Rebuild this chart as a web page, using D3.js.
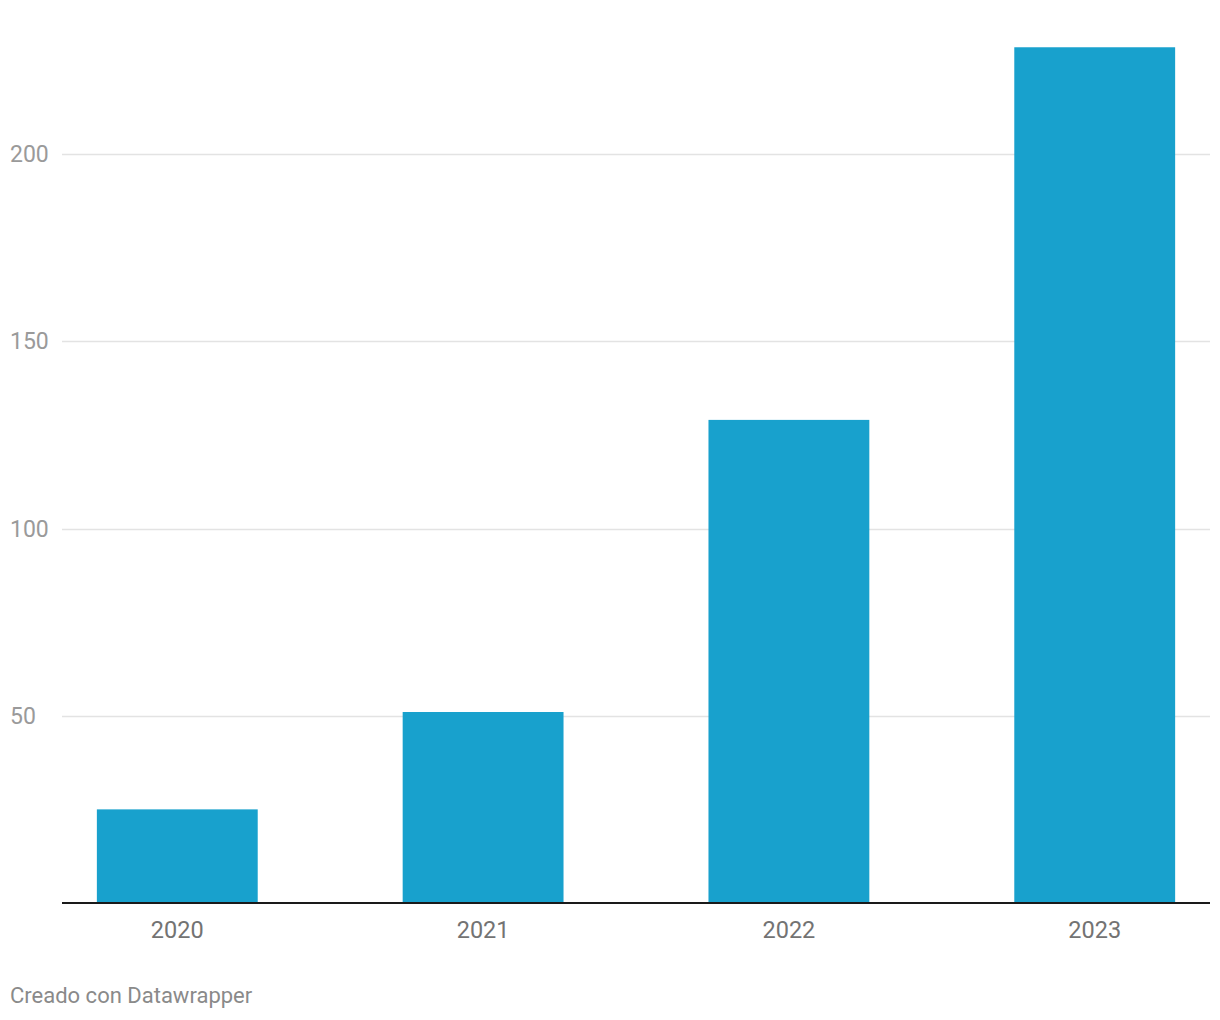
<!DOCTYPE html>
<html>
<head>
<meta charset="utf-8">
<script src="https://cdn.jsdelivr.net/npm/d3@7"></script>
<style>
  html, body { margin: 0; padding: 0; background: #fff; }
  svg { display: block; font-family: Roboto, "Noto Sans", sans-serif; }
</style>
</head>
<body>
<svg id="chart" width="1220" height="1020"></svg>
<script>
const categories = ["2020", "2021", "2022", "2023"];
const values = [25, 51, 129, 228.5];
const yTicks = [50, 100, 150, 200];
const footerText = "Creado con Datawrapper";

(function () {
const svg = d3.select("#chart");
const mLeft = 62, mRight = 1210, mBottom = 903;

const x = d3.scaleBand()
  .domain(categories)
  .range([mLeft, mRight])
  .paddingInner(0.474)
  .paddingOuter(0.114);

const y = d3.scaleLinear()
  .domain([0, 200])
  .range([mBottom, 154]);

// gridlines
svg.append("g").selectAll("line")
  .data(yTicks)
  .join("line")
  .attr("x1", mLeft)
  .attr("x2", mRight)
  .attr("y1", d => Math.round(y(d)) + 0.5)
  .attr("y2", d => Math.round(y(d)) + 0.5)
  .attr("stroke", "#e3e3e3")
  .attr("stroke-width", 1.5);

// y tick labels
svg.append("g").selectAll("text")
  .data(yTicks)
  .join("text")
  .attr("x", 10)
  .attr("y", d => y(d))
  .attr("dy", "0.35em")
  .attr("fill", "#9a9a9a")
  .attr("font-size", 23)
  .text(d => d);

// bars
svg.append("g").selectAll("rect")
  .data(categories.map((c, i) => ({ c, v: values[i] })))
  .join("rect")
  .attr("x", d => x(d.c))
  .attr("width", x.bandwidth())
  .attr("y", d => y(d.v))
  .attr("height", d => y(0) - y(d.v))
  .attr("fill", "#18a1cd");

// baseline
svg.append("line")
  .attr("x1", mLeft)
  .attr("x2", mRight)
  .attr("y1", y(0))
  .attr("y2", y(0))
  .attr("stroke", "#1a1a1a")
  .attr("stroke-width", 2);

// x axis labels
svg.append("g").selectAll("text")
  .data(categories)
  .join("text")
  .attr("x", d => x(d) + x.bandwidth() / 2)
  .attr("y", 938)
  .attr("text-anchor", "middle")
  .attr("fill", "#737373")
  .attr("font-size", 23.5)
  .text(d => d);

// footer
svg.append("text")
  .attr("x", 10)
  .attr("y", 1003)
  .attr("fill", "#8a8a8a")
  .attr("font-size", 22)
  .text(footerText);
})();
</script>
</body>
</html>
